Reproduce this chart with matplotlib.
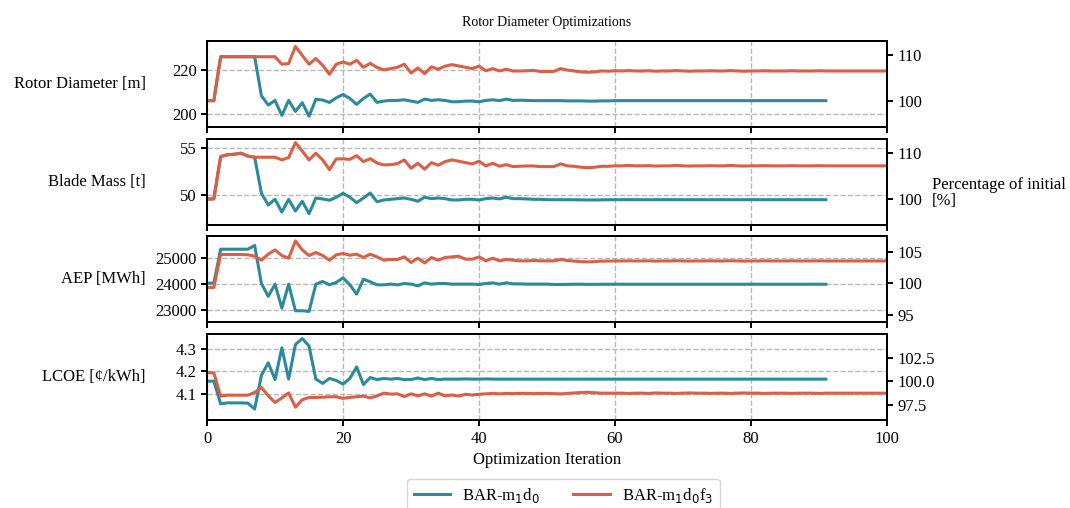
import numpy as np
import matplotlib.pyplot as plt

plt.rcParams['font.family'] = ['Liberation Serif', 'DejaVu Serif']
plt.rcParams['font.size'] = 12

blue_c = '#2b8a9b'
orange_c = '#dc5f45'

labels = ['BAR-m$_1$d$_0$', 'BAR-m$_1$d$_0$f$_3$']

# rotor diameter [m]
rd_m1d0 = [206.1, 206.1, 226.1, 226.1, 226.1, 226.1, 226.1, 226.1, 208.3, 204.1, 206.2, 199.4,
           206.2, 201.2, 205.2, 199.0, 206.7, 206.4, 205.3, 207.4, 208.9, 207.1, 204.4, 207.1,
           209.1, 205.3, 205.9, 206.2, 206.2, 206.5, 205.9, 205.3, 206.8, 206.2, 206.5, 206.2,
           205.6, 205.6, 205.9, 205.9, 205.6, 206.2, 206.5, 206.1, 206.8, 206.2, 206.3, 206.2,
           206.1, 206.1, 206.1, 206.1, 206.1, 206.0, 206.0, 206.0, 205.9, 205.9, 206.0, 206.0,
           206.1, 206.1, 206.1, 206.1, 206.1, 206.1, 206.1, 206.1, 206.1, 206.1, 206.1, 206.1,
           206.1, 206.1, 206.1, 206.1, 206.1, 206.1, 206.1, 206.1, 206.1, 206.1, 206.1, 206.1,
           206.1, 206.1, 206.1, 206.1, 206.1, 206.1, 206.1, 206.1]
rd_m1d0f3 = [206.1, 206.1, 226.1, 226.1, 226.1, 226.1, 226.1, 226.1, 226.1, 226.1, 226.1, 222.7,
             223.0, 230.8, 226.7, 222.7, 225.3, 222.2, 218.1, 222.7, 223.7, 222.7, 224.5, 221.3,
             223.1, 221.2, 220.1, 220.7, 221.3, 222.7, 218.7, 221.0, 218.4, 221.5, 220.4, 221.8,
             222.5, 221.9, 221.3, 220.7, 221.8, 219.7, 220.7, 219.6, 220.4, 219.6, 219.6, 219.7,
             219.9, 219.4, 219.4, 219.4, 220.7, 220.0, 219.6, 219.2, 219.0, 219.2, 219.6, 219.5,
             219.7, 219.6, 219.8, 219.6, 219.6, 219.7, 219.5, 219.6, 219.6, 219.8, 219.6, 219.5,
             219.6, 219.6, 219.7, 219.6, 219.6, 219.8, 219.6, 219.5, 219.6, 219.6, 219.7, 219.6,
             219.6, 219.6, 219.7, 219.6, 219.6, 219.6, 219.7, 219.6, 219.6, 219.6, 219.6, 219.6,
             219.6, 219.6, 219.6, 219.6, 219.6]

# blade mass [t]
bm_m1d0 = [49.54, 49.54, 54.1, 54.3, 54.35, 54.46, 54.15, 54.03, 50.15, 48.89, 49.5, 48.13,
           49.5, 48.24, 49.29, 47.95, 49.64, 49.54, 49.4, 49.72, 50.15, 49.72, 49.14, 49.64,
           50.18, 49.23, 49.43, 49.5, 49.57, 49.64, 49.5, 49.29, 49.72, 49.57, 49.64, 49.57,
           49.43, 49.43, 49.5, 49.5, 49.43, 49.57, 49.64, 49.54, 49.72, 49.57, 49.57, 49.54,
           49.5, 49.5, 49.46, 49.46, 49.46, 49.46, 49.45, 49.44, 49.43, 49.43, 49.44, 49.45,
           49.46, 49.46, 49.46, 49.46, 49.46, 49.46, 49.46, 49.46, 49.46, 49.46, 49.46, 49.46,
           49.46, 49.46, 49.46, 49.46, 49.46, 49.46, 49.46, 49.46, 49.46, 49.46, 49.46, 49.46,
           49.46, 49.46, 49.46, 49.46, 49.46, 49.46, 49.46, 49.46]
bm_m1d0f3 = [49.54, 49.54, 54.1, 54.3, 54.35, 54.46, 54.15, 54.03, 54.03, 54.03, 54.03, 53.74,
             54.0, 55.6, 54.7, 53.74, 54.46, 53.74, 52.7, 53.85, 53.85, 53.8, 54.2, 53.56,
             53.88, 53.4, 53.2, 53.23, 53.34, 53.74, 52.84, 53.38, 52.74, 53.45, 53.17, 53.56,
             53.74, 53.6, 53.45, 53.31, 53.6, 53.09, 53.38, 53.06, 53.23, 53.02, 53.06, 53.09,
             53.09, 53.02, 53.02, 53.02, 53.31, 53.1, 53.05, 52.95, 52.9, 52.95, 53.05, 53.05,
             53.1, 53.1, 53.15, 53.1, 53.1, 53.12, 53.08, 53.1, 53.1, 53.15, 53.1, 53.08,
             53.1, 53.1, 53.12, 53.1, 53.1, 53.15, 53.1, 53.08, 53.1, 53.1, 53.12, 53.1,
             53.1, 53.1, 53.12, 53.1, 53.1, 53.1, 53.12, 53.1, 53.1, 53.1, 53.1, 53.1,
             53.1, 53.1, 53.1, 53.1, 53.1]

# AEP [MWh]
aep_m1d0 = [24027, 24027, 25324, 25324, 25324, 25324, 25324, 25466, 24014, 23519, 23989, 23073,
            23989, 22970, 22970, 22945, 23989, 24090, 23963, 24052, 24229, 23963, 23607, 24179,
            24077, 23962, 23962, 23989, 23962, 24013, 23989, 23924, 24038, 23989, 24013, 24013,
            23989, 23989, 23989, 23989, 23976, 24013, 24038, 23989, 24038, 24000, 24000, 23989,
            23989, 23989, 23989, 23976, 23976, 23980, 23985, 23985, 23980, 23980, 23985, 23985,
            23985, 23985, 23985, 23985, 23985, 23985, 23985, 23985, 23985, 23985, 23985, 23985,
            23985, 23985, 23985, 23985, 23985, 23985, 23985, 23985, 23985, 23985, 23985, 23985,
            23985, 23985, 23985, 23985, 23985, 23985, 23985, 23985]
aep_m1d0f3 = [23862, 23862, 25122, 25122, 25122, 25122, 25110, 25060, 24905, 25134, 25298, 25083,
              24981, 25641, 25298, 25083, 25197, 25083, 24905, 25109, 25160, 25096, 25134, 25007,
              25134, 25031, 24905, 24931, 24931, 25031, 24817, 24981, 24803, 25007, 24905, 25007,
              25031, 25057, 24943, 24943, 25031, 24878, 24981, 24878, 24931, 24905, 24878, 24878,
              24893, 24878, 24878, 24878, 24931, 24890, 24870, 24850, 24840, 24850, 24870, 24870,
              24875, 24875, 24880, 24875, 24875, 24880, 24870, 24875, 24875, 24885, 24875, 24870,
              24875, 24875, 24880, 24875, 24875, 24885, 24875, 24870, 24875, 24875, 24880, 24875,
              24875, 24875, 24880, 24875, 24875, 24875, 24880, 24875, 24875, 24875, 24875, 24875,
              24875, 24875, 24875, 24875, 24875]

# LCOE [cent/kWh]
lcoe_m1d0 = [4.156, 4.156, 4.056, 4.060, 4.060, 4.060, 4.059, 4.033, 4.182, 4.237, 4.163, 4.303,
             4.165, 4.318, 4.344, 4.311, 4.165, 4.146, 4.168, 4.159, 4.143, 4.168, 4.219, 4.141,
             4.172, 4.163, 4.168, 4.165, 4.168, 4.163, 4.163, 4.170, 4.163, 4.168, 4.163, 4.165,
             4.165, 4.165, 4.166, 4.165, 4.165, 4.166, 4.165, 4.165, 4.165, 4.165, 4.165, 4.165,
             4.165, 4.165, 4.165, 4.165, 4.165, 4.165, 4.165, 4.165, 4.165, 4.165, 4.165, 4.165,
             4.165, 4.165, 4.165, 4.165, 4.165, 4.165, 4.165, 4.165, 4.165, 4.165, 4.165, 4.165,
             4.165, 4.165, 4.165, 4.165, 4.165, 4.165, 4.165, 4.165, 4.165, 4.165, 4.165, 4.165,
             4.165, 4.165, 4.165, 4.165, 4.165, 4.165, 4.165, 4.165]
lcoe_m1d0f3 = [4.193, 4.193, 4.090, 4.094, 4.094, 4.094, 4.094, 4.106, 4.128, 4.091, 4.062, 4.082,
               4.104, 4.041, 4.074, 4.084, 4.084, 4.085, 4.087, 4.087, 4.080, 4.084, 4.087, 4.090,
               4.082, 4.091, 4.103, 4.099, 4.100, 4.088, 4.100, 4.091, 4.100, 4.090, 4.103, 4.091,
               4.095, 4.090, 4.098, 4.095, 4.098, 4.100, 4.102, 4.100, 4.102, 4.101, 4.102, 4.102,
               4.101, 4.102, 4.102, 4.101, 4.100, 4.102, 4.104, 4.106, 4.107, 4.105, 4.103, 4.103,
               4.103, 4.103, 4.102, 4.103, 4.103, 4.102, 4.104, 4.103, 4.103, 4.102, 4.103, 4.104,
               4.103, 4.103, 4.102, 4.103, 4.103, 4.102, 4.103, 4.104, 4.103, 4.103, 4.102, 4.103,
               4.103, 4.103, 4.102, 4.103, 4.103, 4.103, 4.102, 4.103, 4.103, 4.103, 4.103, 4.103,
               4.103, 4.103, 4.103, 4.103, 4.103]

ylabels = ['Rotor Diameter [m]', 'Blade Mass [t]', 'AEP [MWh]', 'LCOE [\u00a2/kWh]']
left_ticks = [[200, 220], [50, 55], [23000, 24000, 25000], [4.1, 4.2, 4.3]]
right_ticks = [[100, 110], [100, 110], [95, 100, 105], [97.5, 100.0, 102.5]]
ylims = [(194.1, 233.2), (46.73, 55.97), (22538, 25821), (3.984, 4.363)]

panels = [(rd_m1d0, rd_m1d0f3), (bm_m1d0, bm_m1d0f3),
          (aep_m1d0, aep_m1d0f3), (lcoe_m1d0, lcoe_m1d0f3)]

fig = plt.figure(figsize=(10.7, 5.08), dpi=100)
bottoms = [0.750, 0.557, 0.366, 0.173]
axes = []
for i, (a, b) in enumerate(panels):
    ax = fig.add_axes([0.1935, bottoms[i], 0.6355, 0.169])
    axes.append(ax)
    ax.grid(True, ls='--', color='#b8b8b8', lw=1.0)
    ax.set_axisbelow(True)
    ax.plot(np.arange(len(a)), a, color=blue_c, lw=2.2, label=labels[0])
    ax.plot(np.arange(len(b)), b, color=orange_c, lw=2.2, label=labels[1])
    ax.set_xlim(0, 100)
    ax.set_xticks([0, 20, 40, 60, 80, 100])
    ax.set_ylim(*ylims[i])
    ax.set_yticks(left_ticks[i])
    ax.set_ylabel(ylabels[i], rotation=0, ha='right', va='center')
    ax.yaxis.set_label_coords(-0.09, 0.5)
    for s in ax.spines.values():
        s.set_linewidth(1.4)
    ax.tick_params(width=1.4, length=4)
    if i < 3:
        ax.tick_params(labelbottom=False)

    ref = a[0]
    ax2 = ax.twinx()
    ax2.set_ylim(ylims[i][0] / ref * 100, ylims[i][1] / ref * 100)
    ax2.set_yticks(right_ticks[i])
    if i == 3:
        ax2.set_yticklabels(['%.1f' % t for t in right_ticks[i]])
    ax2.tick_params(width=1.4, length=4)
    for s in ax2.spines.values():
        s.set_linewidth(1.4)

axes[0].set_title('Rotor Diameter Optimizations', fontsize=10, pad=11)
axes[3].set_xlabel('Optimization Iteration')
fig.text(0.871, 0.62, 'Percentage of initial\n[%]', ha='left', va='center', linespacing=1.0)

handles, labs = axes[0].get_legend_handles_labels()
fig.legend(handles, labs, loc='upper center', bbox_to_anchor=(0.5265, 0.057), ncol=2,
           borderaxespad=0, frameon=True, columnspacing=2.0, handlelength=2.2,
           handletextpad=0.7)

fig.savefig('out.png', dpi=100)
